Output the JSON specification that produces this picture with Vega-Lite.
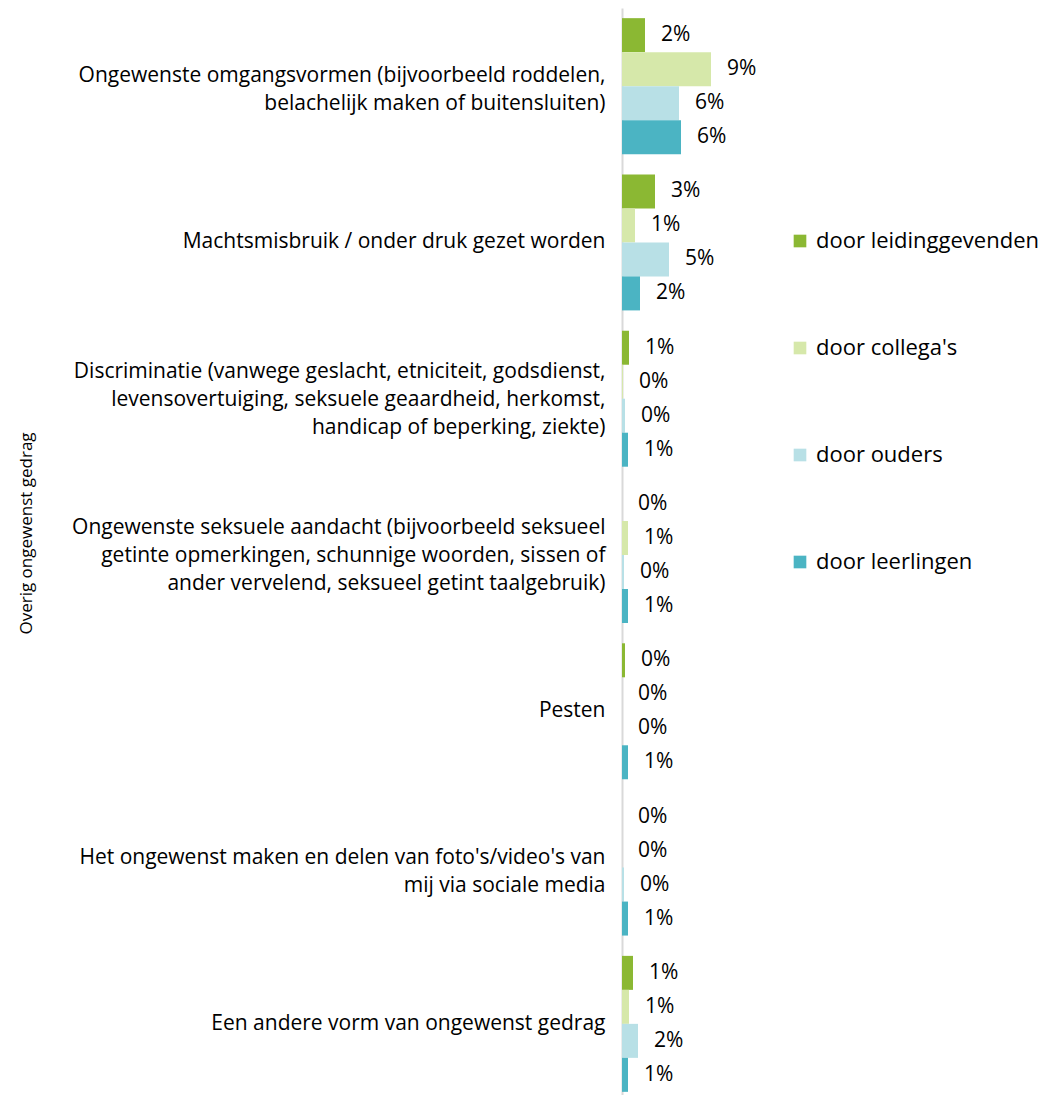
{
  "$schema": "https://vega.github.io/schema/vega-lite/v6.json",
  "autosize": {"type": "none"},
  "padding": {"left": 622, "top": 8, "right": 0, "bottom": 0},
  "width": 432,
  "height": 1094,
  "background": "white",
  "config": {
    "view": {"stroke": null},
    "font": "Open Sans",
    "text": {"font": "Open Sans"}
  },
  "data": {
    "values": [
      {"cat": "Ongewenste omgangsvormen (bijvoorbeeld roddelen,|belachelijk maken of buitensluiten)", "group": "door leidinggevenden", "value": 0.023},
      {"cat": "Ongewenste omgangsvormen (bijvoorbeeld roddelen,|belachelijk maken of buitensluiten)", "group": "door collega's", "value": 0.089},
      {"cat": "Ongewenste omgangsvormen (bijvoorbeeld roddelen,|belachelijk maken of buitensluiten)", "group": "door ouders", "value": 0.057},
      {"cat": "Ongewenste omgangsvormen (bijvoorbeeld roddelen,|belachelijk maken of buitensluiten)", "group": "door leerlingen", "value": 0.059},
      {"cat": "Machtsmisbruik / onder druk gezet worden", "group": "door leidinggevenden", "value": 0.033},
      {"cat": "Machtsmisbruik / onder druk gezet worden", "group": "door collega's", "value": 0.013},
      {"cat": "Machtsmisbruik / onder druk gezet worden", "group": "door ouders", "value": 0.047},
      {"cat": "Machtsmisbruik / onder druk gezet worden", "group": "door leerlingen", "value": 0.018},
      {"cat": "Discriminatie (vanwege geslacht, etniciteit, godsdienst,|levensovertuiging, seksuele geaardheid, herkomst,|handicap of beperking, ziekte)", "group": "door leidinggevenden", "value": 0.007},
      {"cat": "Discriminatie (vanwege geslacht, etniciteit, godsdienst,|levensovertuiging, seksuele geaardheid, herkomst,|handicap of beperking, ziekte)", "group": "door collega's", "value": 0.001},
      {"cat": "Discriminatie (vanwege geslacht, etniciteit, godsdienst,|levensovertuiging, seksuele geaardheid, herkomst,|handicap of beperking, ziekte)", "group": "door ouders", "value": 0.003},
      {"cat": "Discriminatie (vanwege geslacht, etniciteit, godsdienst,|levensovertuiging, seksuele geaardheid, herkomst,|handicap of beperking, ziekte)", "group": "door leerlingen", "value": 0.006},
      {"cat": "Ongewenste seksuele aandacht (bijvoorbeeld seksueel|getinte opmerkingen, schunnige woorden, sissen of|ander vervelend, seksueel getint taalgebruik)", "group": "door leidinggevenden", "value": 0.0},
      {"cat": "Ongewenste seksuele aandacht (bijvoorbeeld seksueel|getinte opmerkingen, schunnige woorden, sissen of|ander vervelend, seksueel getint taalgebruik)", "group": "door collega's", "value": 0.006},
      {"cat": "Ongewenste seksuele aandacht (bijvoorbeeld seksueel|getinte opmerkingen, schunnige woorden, sissen of|ander vervelend, seksueel getint taalgebruik)", "group": "door ouders", "value": 0.002},
      {"cat": "Ongewenste seksuele aandacht (bijvoorbeeld seksueel|getinte opmerkingen, schunnige woorden, sissen of|ander vervelend, seksueel getint taalgebruik)", "group": "door leerlingen", "value": 0.006},
      {"cat": "Pesten", "group": "door leidinggevenden", "value": 0.003},
      {"cat": "Pesten", "group": "door collega's", "value": 0.0},
      {"cat": "Pesten", "group": "door ouders", "value": 0.0},
      {"cat": "Pesten", "group": "door leerlingen", "value": 0.006},
      {"cat": "Het ongewenst maken en delen van foto's/video's van|mij via sociale media", "group": "door leidinggevenden", "value": 0.0},
      {"cat": "Het ongewenst maken en delen van foto's/video's van|mij via sociale media", "group": "door collega's", "value": 0.0},
      {"cat": "Het ongewenst maken en delen van foto's/video's van|mij via sociale media", "group": "door ouders", "value": 0.002},
      {"cat": "Het ongewenst maken en delen van foto's/video's van|mij via sociale media", "group": "door leerlingen", "value": 0.006},
      {"cat": "Een andere vorm van ongewenst gedrag", "group": "door leidinggevenden", "value": 0.011},
      {"cat": "Een andere vorm van ongewenst gedrag", "group": "door collega's", "value": 0.007},
      {"cat": "Een andere vorm van ongewenst gedrag", "group": "door ouders", "value": 0.016},
      {"cat": "Een andere vorm van ongewenst gedrag", "group": "door leerlingen", "value": 0.006}
    ]
  },
  "encoding": {
    "y": {
      "field": "cat",
      "type": "nominal",
      "sort": null,
      "scale": {"paddingInner": 0.13, "paddingOuter": 0.065},
      "axis": {
        "title": "Overig ongewenst gedrag",
        "titleFont": "Open Sans",
        "titleFontSize": 17,
        "titleFontWeight": "normal",
        "titleColor": "#000000",
        "titleAngle": -90,
        "titleX": -596,
        "titleY": 525,
        "titleAlign": "center",
        "titleBaseline": "middle",
        "labelExpr": "split(datum.label, '|')",
        "labelFont": "Open Sans",
        "labelFontSize": 21,
        "labelLineHeight": 28,
        "labelColor": "#000000",
        "labelAlign": "right",
        "labelPadding": 17,
        "labelLimit": 0,
        "labelOffset": {
          "condition": [
            {"test": "length(split(datum.label, '|')) == 3", "value": -27},
            {"test": "length(split(datum.label, '|')) == 2", "value": -10}
          ],
          "value": 0
        },
        "ticks": false,
        "domainColor": "#d9d9d9",
        "domainWidth": 2
      }
    },
    "yOffset": {
      "field": "group",
      "type": "nominal",
      "sort": ["door leidinggevenden", "door collega's", "door ouders", "door leerlingen"],
      "scale": {"paddingInner": 0, "paddingOuter": 0}
    },
    "x": {
      "field": "value",
      "type": "quantitative",
      "scale": {"domain": [0, 0.432], "nice": false},
      "axis": null
    }
  },
  "layer": [
    {
      "mark": {"type": "bar", "x2": 0.0008},
      "encoding": {
        "color": {
          "field": "group",
          "type": "nominal",
          "sort": ["door leidinggevenden", "door collega's", "door ouders", "door leerlingen"],
          "scale": {
            "domain": ["door leidinggevenden", "door collega's", "door ouders", "door leerlingen"],
            "range": ["#8bb833", "#d6e8aa", "#b8e0e6", "#4bb4c3"]
          },
          "legend": {
            "title": null,
            "orient": "none",
            "legendX": 167,
            "legendY": 222,
            "symbolType": "square",
            "symbolSize": 160,
            "symbolStrokeWidth": 0,
            "labelFont": "Open Sans",
            "labelFontSize": 22,
            "labelColor": "#000000",
            "labelOffset": 5,
            "rowPadding": 85,
            "labelLimit": 0
          }
        }
      }
    },
    {
      "mark": {"type": "text", "align": "left", "baseline": "middle", "dx": 16, "fontSize": 21, "color": "#000000", "font": "Open Sans"},
      "encoding": {
        "text": {"field": "value", "type": "quantitative", "format": ".0%"}
      }
    }
  ]
}
